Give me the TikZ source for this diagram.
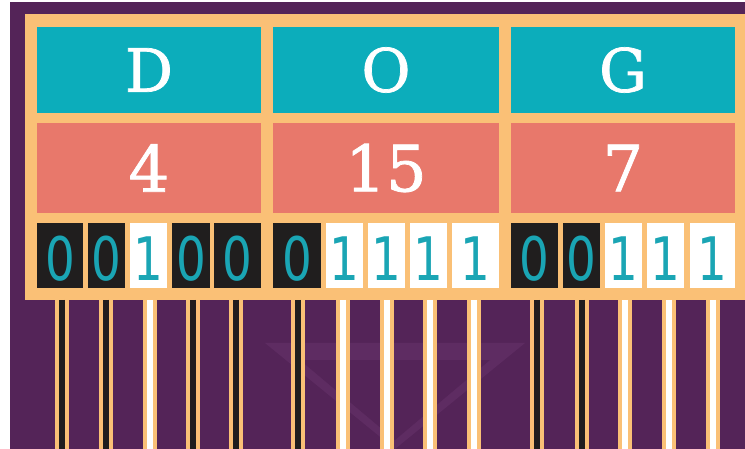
\documentclass[tikz,border=0pt]{standalone}
\usepackage{fontspec}
\newfontfamily\letterfont[FakeBold=1.2]{DejaVu Serif}
\newfontfamily\bitfont[FakeStretch=0.78]{DejaVu Sans}
\definecolor{bgpurple}{RGB}{84,36,88}
\definecolor{ghost}{RGB}{94,44,98}
\definecolor{frameorange}{RGB}{250,192,118}
\definecolor{cellteal}{RGB}{12,173,187}
\definecolor{cellsalmon}{RGB}{232,120,107}
\definecolor{bitblack}{RGB}{32,30,30}
\definecolor{bitteal}{RGB}{26,165,180}
\begin{document}
\begin{tikzpicture}[x=1pt,y=-1pt,
  cell/.style={inner sep=0pt, minimum height=#1, text=white},
  letterbox/.style={cell=86pt, fill=cellteal, font=\letterfont\fontsize{60}{60}\selectfont},
  numbox/.style={cell=90pt, fill=cellsalmon, font=\letterfont\fontsize{64}{64}\selectfont},
  bitbox/.style={inner sep=0pt, minimum height=65pt},
  bit0/.style={bitbox, fill=bitblack},
  bit1/.style={bitbox, fill=white},
  bittext/.style={inner sep=0pt, anchor=base, text=bitteal, font=\bitfont\fontsize{60}{60}\selectfont},
  wire/.style={draw=frameorange, line width=14pt},
  core0/.style={draw=bitblack, line width=6pt},
  core1/.style={draw=white, line width=6pt}]
\useasboundingbox (0,0) rectangle (745,449);
\fill[white] (0,0) rectangle (745,449);
\fill[bgpurple] (10,2) rectangle (745,449);
% faint watermark
\fill[ghost] (265,343) -- (525,343) -- (395,449) -- cycle;
\fill[bgpurple] (300,360) -- (490,360) -- (395,440) -- cycle;
% frame
\fill[frameorange] (25,14) rectangle (745,300);
% letter row
\node[letterbox, minimum width=224pt] (cD) at (149,70) {D};
\node[letterbox, minimum width=226pt] (cO) at (386,70) {O};
\node[letterbox, minimum width=224pt] (cG) at (623,70) {G};
% number row
\node[numbox, minimum width=224pt] (n4) at (149,168) {4};
\node[numbox, minimum width=226pt] (n15) at (386,168) {15};
\node[numbox, minimum width=224pt] (n7) at (623,168) {7};
% bits and wires
\foreach \l/\r/\b/\w [count=\i] in {
  37/83/0/62, 88/125/0/105.5, 130/167/1/150, 172/210/0/193, 214/261/0/236,
  273/321/0/298, 326/363/1/343, 368/405/1/387, 410/447/1/430, 452/499/1/474,
  511/558/0/537, 563/600/0/582, 605/642/1/625, 647/684/1/669, 690/735/1/713}{
  \pgfmathsetmacro{\cx}{(\l+\r)/2}
  \pgfmathsetmacro{\bw}{\r-\l}
  \node[bit\b, minimum width=\bw pt] (b\i) at (\cx,255.5) {};
  \node[bittext] (t\i) at (\cx,281) {\b};
  \coordinate (wt\i) at (\w,300);
  \coordinate (wb\i) at (\w,449);
  \draw[wire] (wt\i) -- (wb\i);
  \draw[core\b] (wt\i) -- (wb\i);
}
\end{tikzpicture}
\end{document}
